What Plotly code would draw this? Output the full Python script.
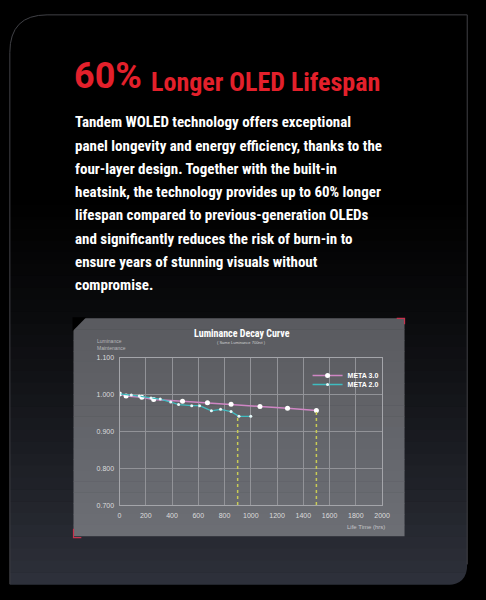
import plotly.graph_objects as go

W, H = 486, 600

# chart data
meta3_hours = [0, 50, 170, 260, 480, 670, 850, 1070, 1280, 1500]
meta3_lum = [1.002, 0.996, 0.993, 0.987, 0.982, 0.978, 0.974, 0.968, 0.963, 0.957]

meta2_hours = [0, 90, 150, 240, 310, 390, 450, 550, 610, 700, 770, 850, 910, 1000]
meta2_lum = [1.002, 0.999, 0.996, 0.991, 0.988, 0.980, 0.973, 0.970, 0.970,
             0.956, 0.960, 0.954, 0.941, 0.941]

drop_hours = [900, 1500]
drop_top = [0.944, 0.957]

x_ticks = list(range(0, 2001, 200))
y_ticks = [0.7, 0.8, 0.9, 1.0, 1.1]

body_lines = [
    "Tandem WOLED technology offers exceptional",
    "panel longevity and energy efficiency, thanks to the",
    "four-layer design. Together with the built-in",
    "heatsink, the technology provides up to 60% longer",
    "lifespan compared to previous-generation OLEDs",
    "and significantly reduces the risk of burn-in to",
    "ensure years of stunning visuals without",
    "compromise.",
]

NARROW = "Roboto Condensed, Liberation Sans Narrow, DejaVu Sans Condensed, sans-serif"
ROBOTO = "Roboto, sans-serif"
SANS = "Liberation Sans, Arial, sans-serif"


def px(x):
    return x / W


def py(y):
    return 1 - y / H


def mix(c1, c2, t):
    return "rgb(%d,%d,%d)" % tuple(round(a + (b - a) * t) for a, b in zip(c1, c2))


fig = go.Figure()

fig.add_trace(go.Scatter(
    x=meta3_hours, y=meta3_lum, name="<b>META 3.0</b>",
    mode="lines+markers",
    line=dict(color="#cf86c4", width=1.5),
    marker=dict(color="white", size=5),
    legend="legend",
))
fig.add_trace(go.Scatter(
    x=meta2_hours, y=meta2_lum, name="<b>META 2.0</b>",
    mode="lines+markers",
    line=dict(color="#3fbcc0", width=1.3),
    marker=dict(color="#e8fafa", size=3),
    legend="legend2",
))
for hx, top in zip(drop_hours, drop_top):
    fig.add_trace(go.Scatter(
        x=[hx, hx], y=[0.7, top], mode="lines", showlegend=False,
        line=dict(color="#c9cc55", width=1.5, dash="dot"), hoverinfo="skip",
    ))

shapes = []

# card background gradient
top, bot, left, right = 11, 587, 8, 475
n = 48
for i in range(n):
    y0 = top + (bot - top) * i / n
    y1 = top + (bot - top) * (i + 1) / n
    t = max(0.0, (i / n - 0.3) / 0.7) ** 1.3
    shapes.append(dict(type="rect", xref="paper", yref="paper", layer="below",
                       x0=px(left), x1=px(right), y0=py(y0), y1=py(y1 + 0.5),
                       fillcolor=mix((0, 0, 0), (47, 50, 60), t), line_width=0))
# mask bottom-right rounded corner
r = 20
shapes.append(dict(type="path", xref="paper", yref="paper", layer="below",
                   path="M %f %f L %f %f L %f %f Q %f %f %f %f Z" % (
                       px(right + 1), py(bot - r), px(right + 1), py(bot + 1),
                       px(right - r), py(bot + 1), px(right), py(bot),
                       px(right), py(bot - r)),
                   fillcolor="black", line_width=0))
# card outline (top-left rounded)
R = 38
shapes.append(dict(type="path", xref="paper", yref="paper", layer="below",
                   path="M %f %f L %f %f Q %f %f %f %f L %f %f L %f %f" % (
                       px(left), py(bot), px(left), py(top + R),
                       px(left), py(top), px(left + R), py(top),
                       px(right), py(top), px(right), py(bot - r)),
                   line=dict(color="#404146", width=1)))

# chart panel
pl, pr, pt, pb = 73, 411, 318, 538
m = 20
for i in range(m):
    y0 = pt + (pb - pt) * i / m
    y1 = pt + (pb - pt) * (i + 1) / m
    shapes.append(dict(type="rect", xref="paper", yref="paper", layer="below",
                       x0=px(pl), x1=px(pr), y0=py(y0), y1=py(y1 + 0.5),
                       fillcolor=mix((90, 91, 96), (108, 110, 116), i / (m - 1)),
                       line_width=0))
# cut top-left corner of the panel
shapes.append(dict(type="path", xref="paper", yref="paper", layer="below",
                   path="M %f %f L %f %f L %f %f Z" % (
                       px(pl - 1), py(pt - 1), px(pl + 13), py(pt - 1),
                       px(pl - 1), py(pt + 13)),
                   fillcolor="black", line_width=0))
# red corner marks
for path in ["M %f %f L %f %f L %f %f" % (px(pr - 8), py(pt), px(pr), py(pt), px(pr), py(pt + 6)),
             "M %f %f L %f %f L %f %f" % (px(pl), py(pb - 7), px(pl), py(pb + 2), px(pl + 8), py(pb + 2))]:
    shapes.append(dict(type="path", xref="paper", yref="paper", layer="above",
                       path=path, line=dict(color="#c8324e", width=1.2)))

annotations = [
    dict(text="<b>60%</b>", x=px(71), y=py(96), xref="paper", yref="paper",
         xanchor="left", yanchor="bottom", showarrow=False,
         font=dict(family=ROBOTO, size=36, color="#e3202b")),
    dict(text="<b>Longer OLED Lifespan</b>", x=px(150), y=py(96), xref="paper", yref="paper",
         xanchor="left", yanchor="bottom", showarrow=False,
         font=dict(family=NARROW, size=26, color="#e3202b")),
    dict(text="<b>Luminance Decay Curve</b>", x=px(245), y=py(333), xref="paper", yref="paper",
         xanchor="center", yanchor="middle", showarrow=False,
         font=dict(family=NARROW, size=10, color="white")),
    dict(text="( Same Luminance 700nit )", x=px(245), y=py(343), xref="paper", yref="paper",
         xanchor="center", yanchor="middle", showarrow=False,
         font=dict(family=SANS, size=4, color="#d0d0d0")),
    dict(text="Luminance<br>Maintenance", x=px(95), y=py(345), xref="paper", yref="paper",
         xanchor="left", yanchor="middle", showarrow=False, align="left",
         font=dict(family=SANS, size=5, color="#b8b8bc")),
    dict(text="Life Time (hrs)", x=px(393), y=py(529), xref="paper", yref="paper",
         xanchor="right", yanchor="middle", showarrow=False,
         font=dict(family=SANS, size=6, color="#c4c4c8")),
]
for k, line in enumerate(body_lines):
    annotations.append(dict(
        text="<b>" + line + "</b>", x=px(72), y=py(127 + 23.5 * k + 4), xref="paper", yref="paper",
        xanchor="left", yanchor="bottom", showarrow=False,
        font=dict(family=NARROW, size=15, color="white")))

legend_style = dict(xanchor="left", yanchor="middle", bgcolor="rgba(0,0,0,0)",
                    font=dict(family=SANS, size=7, color="white"),
                    itemwidth=30, borderwidth=0)

fig.update_layout(
    width=W, height=H,
    margin=dict(l=0, r=0, t=0, b=0),
    paper_bgcolor="black",
    plot_bgcolor="rgba(0,0,0,0)",
    shapes=shapes,
    annotations=annotations,
    showlegend=True,
    legend=dict(x=px(312), y=py(376), **legend_style),
    legend2=dict(x=px(312), y=py(385), **legend_style),
    xaxis=dict(domain=[px(120), px(388)], range=[0, 2000], tickvals=x_ticks,
               showgrid=True, gridcolor="#929398", gridwidth=1, zeroline=False,
               showline=True, linecolor="#a4a5aa", mirror=True, ticklabelstandoff=4,
               tickfont=dict(family=SANS, size=7, color="#dcdcdc"), ticks=""),
    yaxis=dict(domain=[py(507), py(358)], range=[0.7, 1.1], tickvals=y_ticks,
               tickformat=".3f", ticklabelstandoff=3,
               showgrid=True, gridcolor="#929398", gridwidth=1, zeroline=False,
               showline=True, linecolor="#a4a5aa", mirror=True,
               tickfont=dict(family=SANS, size=7, color="#dcdcdc"), ticks=""),
)

fig.write_html("out.html", config={"displayModeBar": False},
               post_script="document.body.style.margin='0';document.body.style.background='black';")
